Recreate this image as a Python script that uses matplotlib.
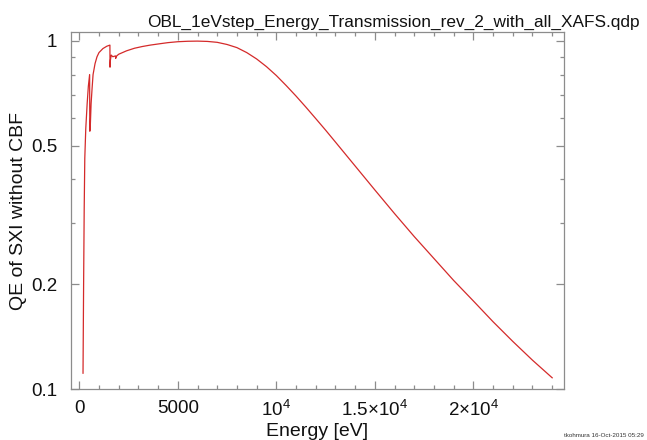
#!/usr/bin/env python3
"""QE curve of SXI without CBF, redrawn from a qdp plot."""

import matplotlib

matplotlib.use("Agg")

import matplotlib.pyplot as plt
from matplotlib.ticker import FixedLocator, FixedFormatter, MultipleLocator, NullFormatter

plt.rcParams["font.family"] = ["Liberation Sans", "DejaVu Sans"]
plt.rcParams["mathtext.fontset"] = "custom"
plt.rcParams["mathtext.rm"] = "Liberation Sans"
plt.rcParams["mathtext.it"] = "Liberation Sans"

TITLE = "OBL_1eVstep_Energy_Transmission_rev_2_with_all_XAFS.qdp"
FOOTER = "tkohmura 16-Oct-2015 05:29"

ENERGY_EV = [
    190, 220, 250, 280, 330, 400, 460, 525, 535, 560, 600, 650, 700, 800,
    900, 1000, 1200, 1400, 1555, 1560, 1580, 1620, 1700, 1839, 1845, 1900,
    2000, 2400, 2800, 3200, 3600, 4100, 4500, 5000, 5500, 6000, 6500, 7000,
    7500, 8000, 8500, 9000, 9500, 10000, 10500, 11000, 11500, 12000, 12500,
    13000, 14000, 15000, 16000, 17000, 18000, 19000, 20000, 21000, 22000,
    23000, 24000,
]
QE = [
    0.111, 0.20, 0.33, 0.46, 0.56, 0.66, 0.74, 0.80, 0.55, 0.57, 0.66, 0.73,
    0.80, 0.86, 0.90, 0.925, 0.95, 0.965, 0.972, 0.84, 0.88, 0.91, 0.90,
    0.905, 0.89, 0.905, 0.915, 0.936, 0.952, 0.963, 0.972, 0.981, 0.988,
    0.994, 0.997, 0.998, 0.996, 0.99, 0.976, 0.956, 0.925, 0.887, 0.843,
    0.795, 0.744, 0.694, 0.645, 0.598, 0.554, 0.512, 0.437, 0.373, 0.319,
    0.274, 0.237, 0.205, 0.179, 0.156, 0.137, 0.121, 0.1077,
]

X_TICKS = [0, 5000, 10000, 15000, 20000]
X_TICK_LABELS = ["0", "5000", r"$10^4$", r"$1.5{\times}10^4$", r"$2{\times}10^4$"]
Y_TICKS = [0.1, 0.2, 0.5, 1.0]
Y_TICK_LABELS = ["0.1", "0.2", "0.5", "1"]

FRAME = "#8c8c8c"
TEXT = "#111111"


def main() -> None:
    fig = plt.figure(figsize=(6.47, 4.40), dpi=100)
    fig.patch.set_facecolor("white")
    ax = fig.add_axes([71 / 647, 51 / 440, 493 / 647, 357 / 440])

    ax.plot(ENERGY_EV, QE, color="#d42a2a", linewidth=0.9)

    ax.set_yscale("log")
    ax.set_xlim(-420, 24600)
    ax.set_ylim(0.1, 1.06)

    ax.xaxis.set_major_locator(FixedLocator(X_TICKS))
    ax.xaxis.set_major_formatter(FixedFormatter(X_TICK_LABELS))
    ax.xaxis.set_minor_locator(MultipleLocator(1000))

    ax.yaxis.set_major_locator(FixedLocator(Y_TICKS))
    ax.yaxis.set_major_formatter(FixedFormatter(Y_TICK_LABELS))
    ax.yaxis.set_minor_locator(FixedLocator([0.3, 0.4, 0.6, 0.7, 0.8, 0.9]))
    ax.yaxis.set_minor_formatter(NullFormatter())

    ax.tick_params(which="both", direction="in", top=True, right=True,
                   color=FRAME, width=0.9)
    ax.tick_params(which="major", length=6, labelsize=13.5, colors=TEXT)
    ax.tick_params(which="minor", length=3)
    ax.tick_params(axis="x", which="major", pad=8, colors=FRAME, labelcolor=TEXT)
    ax.tick_params(axis="y", which="major", pad=10, colors=FRAME, labelcolor=TEXT)
    for spine in ax.spines.values():
        spine.set_color(FRAME)
        spine.set_linewidth(0.9)

    ax.set_xlabel("Energy [eV]", fontsize=14, color=TEXT, labelpad=2)
    ax.set_ylabel("QE of SXI without CBF", fontsize=14, color=TEXT)
    ax.yaxis.set_label_coords(-0.089, 0.5)

    fig.text(147 / 647, 1 - 27 / 440, TITLE, fontsize=12.4, color=TEXT,
             ha="left", va="baseline")
    fig.text(644 / 647, 2 / 440, FOOTER, fontsize=4.5, color="#333333",
             ha="right", va="bottom")

    fig.savefig("out.png", dpi=100, facecolor="white")
    plt.close(fig)


if __name__ == "__main__":
    main()
